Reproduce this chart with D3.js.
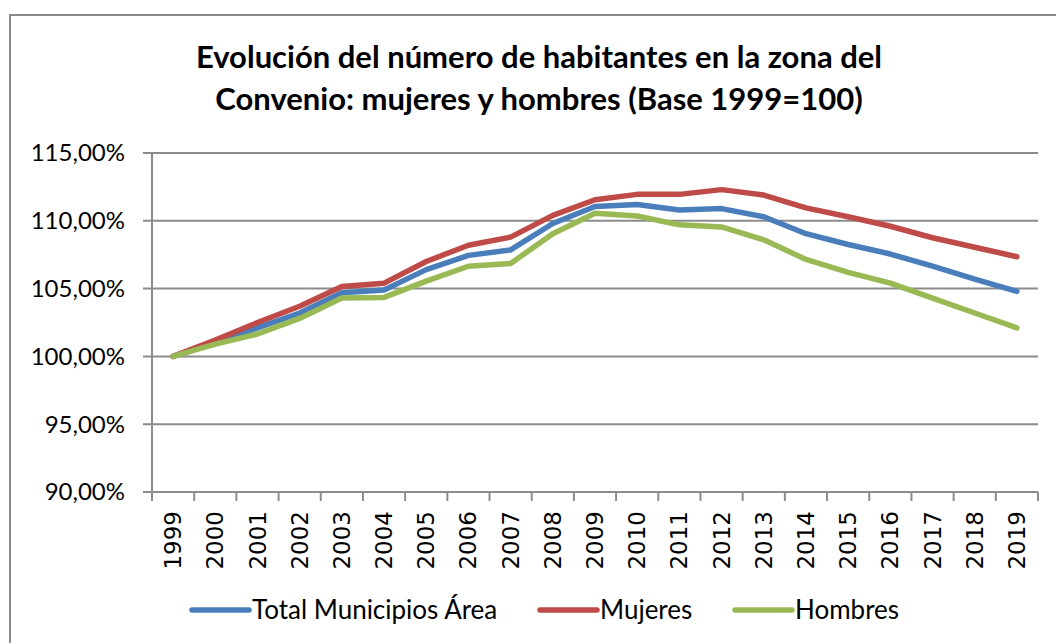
<!DOCTYPE html>
<html>
<head>
<meta charset="utf-8">
<script src="https://cdn.jsdelivr.net/npm/d3@7"></script>
<style>
  html, body { margin: 0; padding: 0; background: #fff; }
</style>
</head>
<body>
<script>
// chart data ==============================================================
var years   = ["1999","2000","2001","2002","2003","2004","2005","2006","2007","2008","2009",
               "2010","2011","2012","2013","2014","2015","2016","2017","2018","2019"]
var total   = [100, 101.0, 102.1, 103.2, 104.7, 104.9, 106.4, 107.45, 107.85, 109.8, 111.05,
               111.2, 110.8, 110.9, 110.3, 109.05, 108.25, 107.55, 106.65, 105.7, 104.8]
var mujeres = [100, 101.2, 102.5, 103.7, 105.15, 105.4, 107.0, 108.2, 108.8, 110.4, 111.55,
               111.95, 111.95, 112.3, 111.9, 110.95, 110.3, 109.6, 108.75, 108.05, 107.35]
var hombres = [100, 100.9, 101.65, 102.8, 104.3, 104.35, 105.55, 106.65, 106.85, 109.05, 110.55,
               110.35, 109.7, 109.55, 108.6, 107.15, 106.2, 105.4, 104.3, 103.2, 102.1]
var yTicks  = [90, 95, 100, 105, 110, 115]
var seriesNames = ["Total Municipios Área", "Mujeres", "Hombres"]

var series = [
    { name: seriesNames[0], values: total,   color: "#4a7ebb" },
    { name: seriesNames[1], values: mujeres, color: "#be4b48" },
    { name: seriesNames[2], values: hombres, color: "#98b954" }
]

// layout ===================================================================
var W = 1056, H = 643
var plot = { left: 152, right: 1038, top: 153, bottom: 492 }
var gridColor = "#8c8c8c"

var svg = d3.select("body").append("svg")
    .attr("xmlns", "http://www.w3.org/2000/svg")
    .attr("width", W)
    .attr("height", H)

svg.append("rect").attr("width", W).attr("height", H).attr("fill", "#fff")

// chart frame (only top and left visible)
svg.append("path")
    .attr("d", "M10," + H + "V15H" + W)
    .attr("fill", "none")
    .attr("stroke", "#8a8a8a")
    .attr("stroke-width", 2)

// title
var title = svg.append("text")
    .attr("text-anchor", "middle")
    .attr("font-family", "Lato, 'Open Sans', sans-serif")
    .attr("font-weight", "bold")
    .attr("font-size", "31px")
    .attr("fill", "#000")
title.append("tspan").attr("x", 539).attr("y", 68).text("Evolución del número de habitantes en la zona del")
title.append("tspan").attr("x", 539).attr("y", 110).text("Convenio: mujeres y hombres (Base 1999=100)")

// scales
var x = d3.scaleBand().domain(years).range([plot.left, plot.right])
var y = d3.scaleLinear().domain([90, 115]).range([plot.bottom, plot.top])
var fmt = function(d) { return d3.format(".2f")(d).replace(".", ",") + "%" }

// gridlines
svg.append("g")
    .selectAll("line")
    .data(yTicks)
    .enter().append("line")
    .attr("x1", plot.left - 9)
    .attr("x2", plot.right)
    .attr("y1", function(d) { return y(d) })
    .attr("y2", function(d) { return y(d) })
    .attr("stroke", gridColor)
    .attr("stroke-width", 2)

// y axis line
svg.append("line")
    .attr("x1", plot.left).attr("x2", plot.left)
    .attr("y1", plot.top).attr("y2", plot.bottom)
    .attr("stroke", gridColor)
    .attr("stroke-width", 2)

// x axis tick marks at band edges
var edges = years.map(function(d) { return x(d) }).concat([plot.right])
svg.append("g")
    .selectAll("line")
    .data(edges)
    .enter().append("line")
    .attr("x1", function(d) { return d })
    .attr("x2", function(d) { return d })
    .attr("y1", plot.bottom)
    .attr("y2", plot.bottom + 9)
    .attr("stroke", gridColor)
    .attr("stroke-width", 2)

// y labels
svg.append("g")
    .selectAll("text")
    .data(yTicks)
    .enter().append("text")
    .attr("x", 125)
    .attr("y", function(d) { return y(d) })
    .attr("dy", "0.35em")
    .attr("text-anchor", "end")
    .attr("font-family", "Lato, 'Open Sans', sans-serif")
    .attr("font-size", "24px")
    .attr("fill", "#000")
    .text(fmt)

// x labels, rotated
svg.append("g")
    .selectAll("text")
    .data(years)
    .enter().append("text")
    .attr("transform", function(d) {
        return "translate(" + (x(d) + x.bandwidth() / 2) + "," + (plot.bottom + 19) + ") rotate(-90)"
    })
    .attr("dy", "0.35em")
    .attr("text-anchor", "end")
    .attr("font-family", "'DejaVu Sans', sans-serif")
    .attr("font-size", "23px")
    .attr("fill", "#000")
    .text(function(d) { return d })

// the lines
var line = d3.line()
    .x(function(d, i) { return x(years[i]) + x.bandwidth() / 2 })
    .y(function(d) { return y(d) })

svg.append("g")
    .selectAll("path")
    .data(series)
    .enter().append("path")
    .attr("d", function(d) { return line(d.values) })
    .attr("fill", "none")
    .attr("stroke", function(d) { return d.color })
    .attr("stroke-width", 5.5)
    .attr("stroke-linejoin", "round")
    .attr("stroke-linecap", "round")

// legend
var legendX = [192, 540, 735]
var legend = svg.append("g")
    .selectAll("g")
    .data(series)
    .enter().append("g")
    .attr("transform", function(d, i) { return "translate(" + legendX[i] + ",610)" })

legend.append("line")
    .attr("x1", 0).attr("x2", 57)
    .attr("stroke", function(d) { return d.color })
    .attr("stroke-width", 5.5)
    .attr("stroke-linecap", "round")

legend.append("text")
    .attr("x", 60)
    .attr("dy", "0.35em")
    .attr("font-family", "Lato, 'Open Sans', sans-serif")
    .attr("font-size", "26px")
    .attr("fill", "#000")
    .text(function(d) { return d.name })
</script>
</body>
</html>
